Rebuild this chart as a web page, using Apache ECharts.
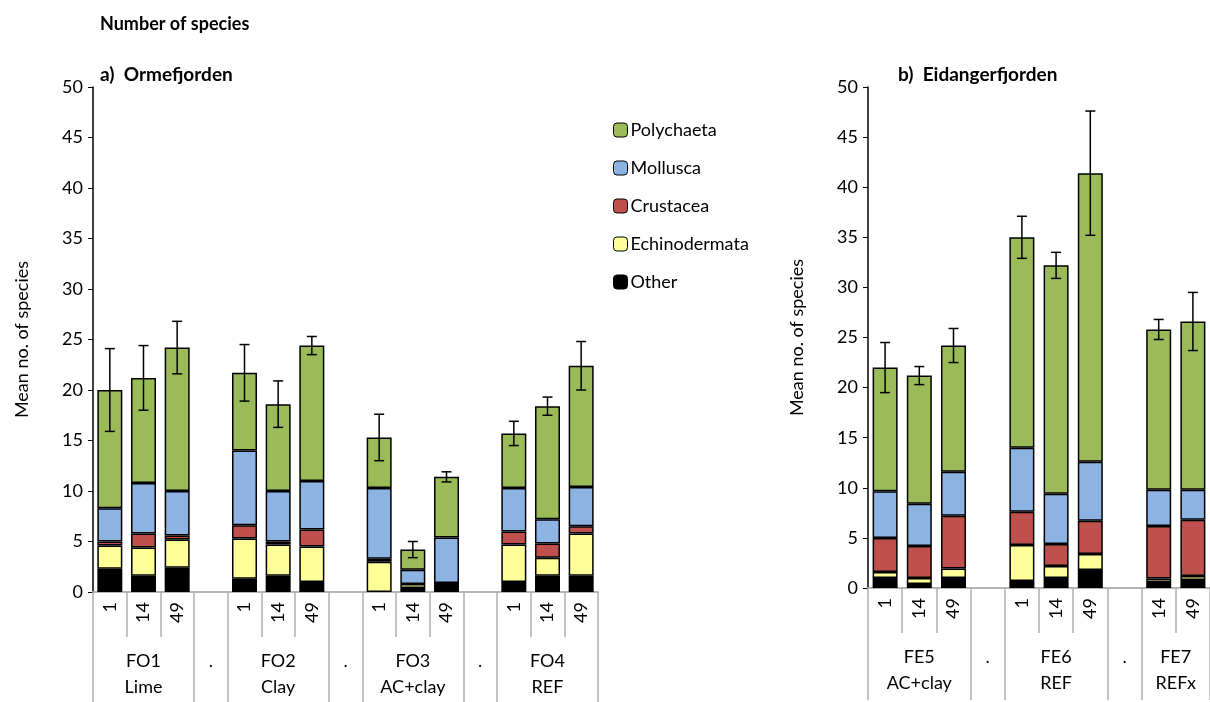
<!DOCTYPE html>
<html lang="en">
<head>
    <meta charset="UTF-8">
    <title>Number of species</title>
    <script src="https://cdn.jsdelivr.net/npm/echarts@6.0.0/dist/echarts.min.js"></script>
    <style>
        body { margin: 0; background: #fff; }
        #main { width: 1210px; height: 702px; }
    </style>
</head>
<body>
<div id="main"></div>
<script type="text/javascript">
    // slots: null = gap column ('.') or a segment that is absent
    var leftDays = ['1', '14', '49', '', '1', '14', '49', '', '1', '14', '49', '', '1', '14', '49'];
    var leftGroups = ['', 'FO1\nLime', '', '.', '', 'FO2\nClay', '', '.', '', 'FO3\nAC+clay', '', '.', '', 'FO4\nREF', ''];
    var leftOther = [2.3, 1.6, 2.4, null, 1.3, 1.6, 1.0, null, null, 0.4, 0.6, null, 1.0, 1.6, 1.6];
    var leftEchino = [2.3, 2.8, 2.8, null, 4.0, 3.1, 3.5, null, 3.0, 0.4, 0.3, null, 3.7, 1.8, 4.2];
    var leftCrust = [0.4, 1.4, 0.4, null, 1.3, 0.3, 1.7, null, 0.3, null, null, null, 1.3, 1.4, 0.7];
    var leftMollusca = [3.3, 5.0, 4.4, null, 7.4, 5.0, 4.8, null, 7.0, 1.4, 4.5, null, 4.3, 2.4, 3.9];
    var leftPoly = [11.7, 10.4, 14.2, null, 7.7, 8.6, 13.4, null, 5.0, 2.0, 6.0, null, 5.4, 11.2, 12.0];
    var leftErr = [4.1, 3.2, 2.6, null, 2.8, 2.3, 0.9, null, 2.3, 0.8, 0.5, null, 1.2, 0.9, 2.4];

    var rightDays = ['1', '14', '49', '', '1', '14', '49', '', '14', '49'];
    // FE7 spans two slots: its label is shifted half a slot right
    var rightGroups = ['', 'FE5\nAC+clay', '', '.', '', 'FE6\nREF', '', '.', '{half|FE7}\n{half|REFx}', ''];
    var rightOther = [1.0, 0.4, 1.0, null, 0.7, 1.0, 1.8, null, 0.6, 0.8];
    var rightEchino = [0.6, 0.6, 0.95, null, 3.6, 1.2, 1.6, null, 0.35, 0.4];
    var rightCrust = [3.4, 3.2, 5.25, null, 3.3, 2.2, 3.3, null, 5.25, 5.6];
    var rightMollusca = [4.65, 4.2, 4.4, null, 6.4, 5.0, 5.9, null, 3.6, 3.0];
    var rightPoly = [12.35, 12.8, 12.6, null, 21.0, 22.8, 28.8, null, 16.0, 16.8];
    var rightErr = [2.5, 0.9, 1.7, null, 2.1, 1.3, 6.2, null, 1.0, 2.9];

    var groupBounds = {0: [0, 3, 4, 7, 8, 11, 12, 15], 1: [0, 3, 4, 7, 8, 10]};

    var seriesNames = ['Other', 'Echinodermata', 'Crustacea', 'Mollusca', 'Polychaeta'];
    var seriesColors = ['#000000', '#FFFF99', '#C0504D', '#8DB3E2', '#9BBB59'];
    var font = 'Lato, "Open Sans", sans-serif';

    var myChart = echarts.init(document.getElementById('main'), null, {renderer: 'canvas'});

    function makeSeries(gi, arrays, err) {
        var out = [];
        arrays.forEach(function (arr, k) {
            out.push({
                name: seriesNames[k],
                type: 'bar',
                xAxisIndex: gi * 2,
                yAxisIndex: gi,
                stack: 'g' + gi,
                barWidth: 25,
                itemStyle: {color: seriesColors[k], borderColor: '#000', borderWidth: 1.5},
                data: arr
            });
        });
        var errData = [];
        err.forEach(function (e, i) {
            if (e === null) return;
            var top = 0;
            arrays.forEach(function (arr) { top += arr[i] || 0; });
            errData.push([i, top, e]);
        });
        out.push({
            type: 'custom',
            xAxisIndex: gi * 2,
            yAxisIndex: gi,
            z: 10,
            data: errData,
            renderItem: function (params, api) {
                var x = api.value(0), t = api.value(1), e = api.value(2);
                var hi = api.coord([x, t + e]);
                var lo = api.coord([x, t - e]);
                var w = 5;
                var st = {stroke: '#000', lineWidth: 1.5};
                return {
                    type: 'group',
                    children: [
                        {type: 'line', shape: {x1: hi[0], y1: hi[1], x2: lo[0], y2: lo[1]}, style: st},
                        {type: 'line', shape: {x1: hi[0] - w, y1: hi[1], x2: hi[0] + w, y2: hi[1]}, style: st},
                        {type: 'line', shape: {x1: lo[0] - w, y1: lo[1], x2: lo[0] + w, y2: lo[1]}, style: st}
                    ]
                };
            }
        });
        return out;
    }

    function innerAxis(gi, days) {
        return {
            type: 'category', gridIndex: gi, data: days, position: 'bottom',
            axisLine: {show: true, lineStyle: {color: '#b0b0b0', width: 1.5}},
            axisTick: {show: true, length: 45, interval: 0, lineStyle: {color: '#b0b0b0', width: 1.5}},
            axisLabel: {interval: 0, rotate: 90, margin: 10, fontSize: 18, color: '#000', fontFamily: font}
        };
    }

    function groupAxis(gi, groups) {
        var b = groupBounds[gi];
        return {
            type: 'category', gridIndex: gi, data: groups, position: 'bottom',
            axisLine: {show: true, lineStyle: {color: '#b0b0b0', width: 1.5}},
            axisTick: {
                show: true,
                length: 112,
                interval: function (index) { return b.indexOf(index) >= 0; },
                lineStyle: {color: '#b0b0b0', width: 1.5}
            },
            axisLabel: {
                interval: 0, margin: 56, fontSize: 18, lineHeight: 26, color: '#000', fontFamily: font,
                rich: {half: {fontSize: 18, lineHeight: 26, fontFamily: font, color: '#000', padding: [0, 0, 0, 34]}}
            }
        };
    }

    function yAxis(gi) {
        return {
            type: 'value', gridIndex: gi, min: 0, max: 50, interval: 5,
            name: 'Mean no. of species', nameLocation: 'middle', nameGap: 62,
            nameTextStyle: {fontSize: 18, color: '#000', fontFamily: font},
            axisLine: {show: true, lineStyle: {color: '#000', width: 1.5}},
            axisTick: {show: true, length: 5, lineStyle: {color: '#000'}},
            axisLabel: {fontSize: 18, color: '#000', fontFamily: font, margin: 10},
            splitLine: {show: false}
        };
    }

    var option = {
        animation: false,
        title: [
            {text: 'Number of species', left: 95, top: 10, textStyle: {fontSize: 18, fontWeight: 'bold', fontFamily: font, color: '#000'}},
            {text: 'a)  Ormefjorden', left: 95, top: 60, textStyle: {fontSize: 19, fontWeight: 'bold', fontFamily: font, color: '#000'}},
            {text: 'b)  Eidangerfjorden', left: 893, top: 60, textStyle: {fontSize: 19, fontWeight: 'bold', fontFamily: font, color: '#000'}}
        ],
        legend: {
            orient: 'vertical', left: 608, top: 116, itemGap: 20, itemWidth: 14, itemHeight: 14,
            data: ['Polychaeta', 'Mollusca', 'Crustacea', 'Echinodermata', 'Other'],
            itemStyle: {borderColor: '#000', borderWidth: 1},
            textStyle: {fontSize: 18, color: '#000', fontFamily: font, padding: [0, 0, 0, -2]}
        },
        grid: [
            {left: 93, top: 87, width: 505, height: 505},
            {left: 868, top: 87, width: 342, height: 501}
        ],
        xAxis: [innerAxis(0, leftDays), groupAxis(0, leftGroups), innerAxis(1, rightDays), groupAxis(1, rightGroups)],
        yAxis: [yAxis(0), yAxis(1)],
        series: makeSeries(0, [leftOther, leftEchino, leftCrust, leftMollusca, leftPoly], leftErr)
            .concat(makeSeries(1, [rightOther, rightEchino, rightCrust, rightMollusca, rightPoly], rightErr))
    };

    myChart.setOption(option);
</script>
</body>
</html>
